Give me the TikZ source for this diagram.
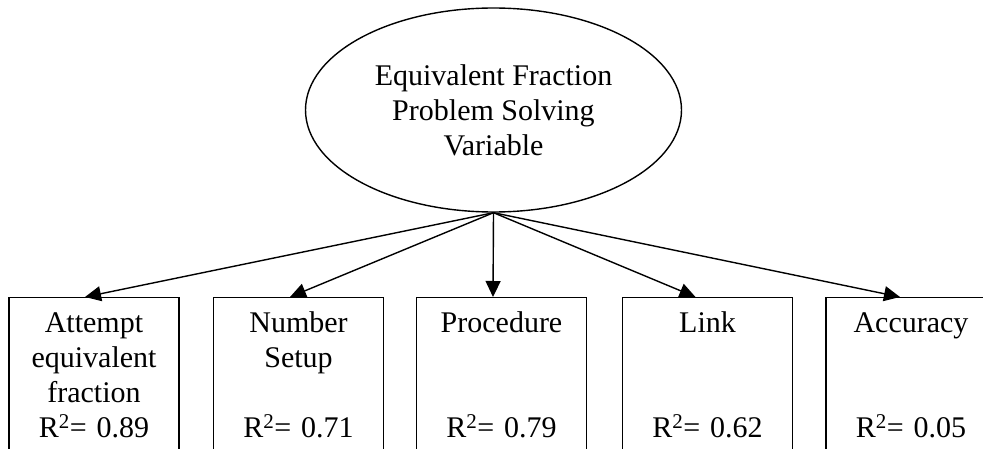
\documentclass[tikz,border=0pt]{standalone}
\usepackage{fontspec}
\setmainfont{Liberation Serif}
\usetikzlibrary{shapes.geometric,arrows.meta}
\begin{document}
\begin{tikzpicture}[x=1pt,y=-1pt,
  txt/.style={font=\fontsize{30}{35}\selectfont},
  latent/.style={ellipse,draw,line width=1.4pt,minimum width=376pt,minimum height=204pt,inner sep=0pt,align=center,txt},
  obsbox/.style={rectangle,draw,line width=1.4pt,anchor=north,inner sep=0pt,text width=170pt,align=center,text height=35pt,text depth=160pt,txt},
  link/.style={line width=1.4pt,-{Triangle[length=16pt,width=15pt]}}]
\useasboundingbox (0,0) rectangle (983,449);
\clip (0,0) rectangle (983,449);
\node[latent] (e) at (493.5,110) {Equivalent Fraction\\Problem Solving\\Variable};
\node[obsbox] (b1) at (94,297) {Attempt\\equivalent\\fraction\\R\textsuperscript{2}= 0.89};
\node[obsbox] (b2) at (298.5,297) {Number\\Setup\\\mbox{}\\R\textsuperscript{2}= 0.71};
\node[obsbox] (b3) at (501.5,297) {Procedure\\\mbox{}\\\mbox{}\\R\textsuperscript{2}= 0.79};
\node[obsbox] (b4) at (707.5,297) {Link\\\mbox{}\\\mbox{}\\R\textsuperscript{2}= 0.62};
\node[obsbox] (b5) at (911,297) {Accuracy\\\mbox{}\\\mbox{}\\R\textsuperscript{2}= 0.05};
\draw[link] (e.south) -- ([xshift=-9pt]b1.north);
\draw[link] (e.south) -- ([xshift=-8.5pt]b2.north);
\draw[link] (e.south) -- ([xshift=-8.5pt]b3.north);
\draw[link] (e.south) -- ([xshift=-12pt]b4.north);
\draw[link] (e.south) -- ([xshift=-11pt]b5.north);
\end{tikzpicture}
\end{document}
